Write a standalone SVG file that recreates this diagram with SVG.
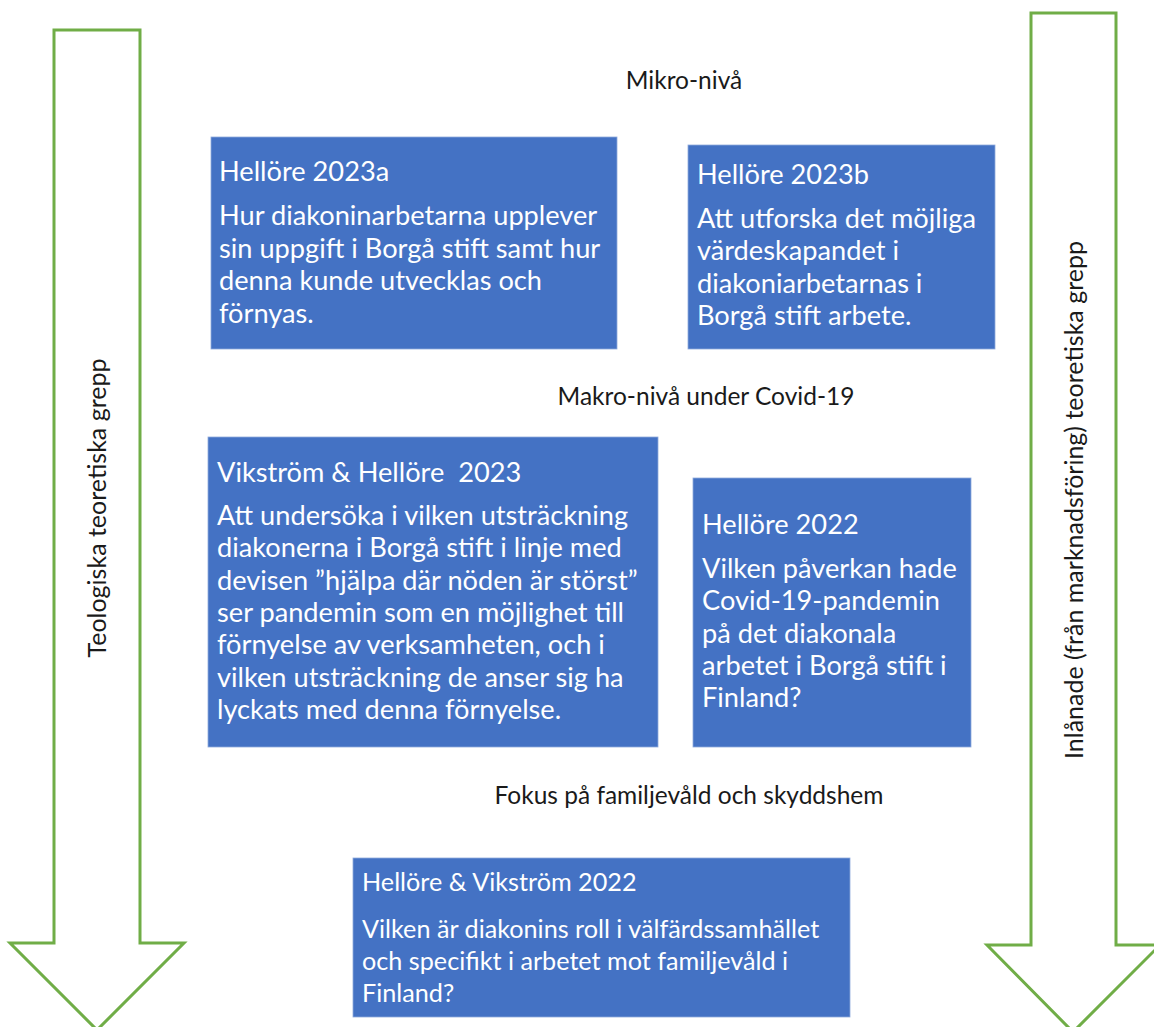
<svg xmlns="http://www.w3.org/2000/svg" width="1154" height="1027" viewBox="0 0 1154 1027">
<style>
.arrow{fill:#ffffff;stroke:#70AD47;stroke-width:3;stroke-linejoin:miter}
.box{fill:#4472C4;stroke:#8FAADC;stroke-width:0.8}
.bt{font-family:Lato,"Open Sans","Liberation Sans",sans-serif;font-size:27.2px;fill:#ffffff}
.bs{font-family:Lato,"Open Sans","Liberation Sans",sans-serif;font-size:25.2px;fill:#ffffff}
.lbl{font-family:Lato,"Open Sans","Liberation Sans",sans-serif;font-size:24.5px;fill:#1a1a1a}
.side{font-family:Lato,"Open Sans","Liberation Sans",sans-serif;font-size:25px;fill:#1a1a1a}
</style>
<rect width="1154" height="1027" fill="#ffffff"/>
<g id="connectors">
<polygon id="arrow-left" class="arrow" points="54,30 140,30 140,943 184,943 97,1030 10,943 54,943"/>
<polygon id="arrow-right" class="arrow" points="1031,13 1116,13 1116,945 1160,945 1073,1032 987,945 1031,945"/>
</g>
<g id="label-left"><text class="side" transform="translate(106,508) rotate(-90)" text-anchor="middle">Teologiska teoretiska grepp</text></g>
<g id="label-right"><text class="side" transform="translate(1083,500) rotate(-90)" text-anchor="middle">Inlånade (från marknadsföring) teoretiska grepp</text></g>
<g id="heading-mikro"><text class="lbl" x="684" y="89" text-anchor="middle">Mikro-nivå</text></g>
<g id="heading-makro"><text class="lbl" x="706" y="405" text-anchor="middle">Makro-nivå under Covid-19</text></g>
<g id="heading-fokus"><text class="lbl" x="689" y="804" text-anchor="middle">Fokus på familjevåld och skyddshem</text></g>
<g id="node-2023a">
<rect class="box" x="211" y="137" width="406" height="212"/>
<text class="bt" x="219" y="181">Hellöre 2023a</text>
<text class="bt" x="219" y="225">Hur diakoninarbetarna upplever</text>
<text class="bt" x="219" y="257.5">sin uppgift i Borgå stift samt hur</text>
<text class="bt" x="219" y="290">denna kunde utvecklas och</text>
<text class="bt" x="219" y="322.5">förnyas.</text>
</g>
<g id="node-2023b">
<rect class="box" x="688" y="145" width="307" height="204"/>
<text class="bt" x="697" y="184">Hellöre 2023b</text>
<text class="bt" x="697" y="228">Att utforska det möjliga</text>
<text class="bt" x="697" y="260">värdeskapandet i</text>
<text class="bt" x="697" y="292.5">diakoniarbetarnas i</text>
<text class="bt" x="697" y="324.5">Borgå stift arbete.</text>
</g>
<g id="node-vikstrom-2023">
<rect class="box" x="208" y="437" width="450" height="310"/>
<text class="bt" x="217" y="482" xml:space="preserve">Vikström &amp; Hellöre  2023</text>
<text class="bt" x="217" y="525">Att undersöka i vilken utsträckning</text>
<text class="bt" x="217" y="557.3">diakonerna i Borgå stift i linje med</text>
<text class="bt" x="217" y="589.6">devisen ”hjälpa där nöden är störst”</text>
<text class="bt" x="217" y="621.9">ser pandemin som en möjlighet till</text>
<text class="bt" x="217" y="654.2">förnyelse av verksamheten, och i</text>
<text class="bt" x="217" y="686.5">vilken utsträckning de anser sig ha</text>
<text class="bt" x="217" y="718.8">lyckats med denna förnyelse.</text>
</g>
<g id="node-2022">
<rect class="box" x="693" y="478" width="278" height="269"/>
<text class="bt" x="702" y="534">Hellöre 2022</text>
<text class="bt" x="702" y="578">Vilken påverkan hade</text>
<text class="bt" x="702" y="610">Covid-19-pandemin</text>
<text class="bt" x="702" y="642.5">på det diakonala</text>
<text class="bt" x="702" y="674.5">arbetet i Borgå stift i</text>
<text class="bt" x="702" y="706.5">Finland?</text>
</g>
<g id="node-hellore-vikstrom-2022">
<rect class="box" x="353" y="858" width="497" height="159"/>
<text class="bs" x="362" y="891">Hellöre &amp; Vikström 2022</text>
<text class="bs" x="362" y="938">Vilken är diakonins roll i välfärdssamhället</text>
<text class="bs" x="362" y="970">och specifikt i arbetet mot familjevåld i</text>
<text class="bs" x="362" y="1001.5">Finland?</text>
</g>
</svg>
